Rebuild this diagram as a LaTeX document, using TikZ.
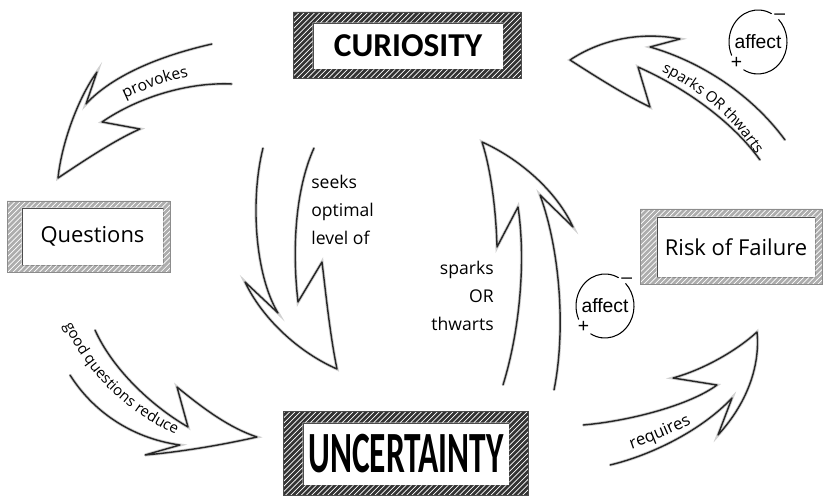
\documentclass[tikz,border=0pt]{standalone}
\usepackage{fontspec}
\usepackage{graphicx}
\setmainfont{Open Sans}
\newfontfamily\boxfont{Carlito}
\newfontfamily\affectfont{Liberation Sans}
\usetikzlibrary{patterns,decorations.text}
\newcommand\lblfont{\fontsize{9}{9}\selectfont}

\tikzset{
  sketch/.style={line width=0.8pt, black!85, line cap=round, line join=round,
    preaction={draw=black!18, line width=1.8pt}},
  darkframe/.style={even odd rule, fill=black!80,
    postaction={pattern=north east lines, pattern color=white}},
  greyframe/.style={even odd rule, fill=black!32,
    postaction={pattern=north east lines, pattern color=white}},
  innerbox/.style={draw=black!70, line width=0.4pt, fill=white, inner sep=0pt},
  bigword/.style={font=\boxfont\bfseries\fontsize{19}{19}\selectfont},
  boxword/.style={font=\fontsize{12.5}{14}\selectfont},
  midlabel/.style={font=\fontsize{10}{16}\selectfont, inner sep=0pt},
  affect/.style={font=\affectfont\fontsize{11}{11}\selectfont, inner sep=0pt}
}

\begin{document}
\begin{tikzpicture}[x=0.02cm, y=-0.02cm]
\useasboundingbox (0,0) rectangle (827,496);

% boxes
\node[innerbox, bigword, minimum width=3.8cm, minimum height=0.92cm] (cur) at (408,46) {CURIOSITY};
\fill[darkframe] (293,12) rectangle (521,78) (cur.north west) rectangle (cur.south east);
\draw[black!70, line width=0.5pt] (293,12) rectangle (521,78);

\node[innerbox, minimum width=4.12cm, minimum height=1.24cm] (unc) at (406,454)
  {\scalebox{1}[1.75]{\boxfont\bfseries\fontsize{19}{19}\selectfont UNCERTAINTY}};
\fill[darkframe] (283,411) rectangle (528,495) (unc.north west) rectangle (unc.south east);
\draw[black!70, line width=0.5pt] (283,411) rectangle (528,495);

\node[innerbox, boxword, minimum width=2.82cm, minimum height=1.14cm] (que) at (92.5,236.5) {Questions};
\fill[greyframe] (7,201) rectangle (170,272) (que.north west) rectangle (que.south east);
\draw[black!45, line width=0.5pt] (7,201) rectangle (170,272);

\node[innerbox, boxword, minimum width=3.16cm, minimum height=1.2cm] (risk) at (736,247) {Risk of Failure};
\fill[greyframe] (640,209) rectangle (822,284) (risk.north west) rectangle (risk.south east);
\draw[black!45, line width=0.5pt] (640,209) rectangle (822,284);

% arrows
\draw[sketch] (212,44) .. controls (150,58) and (108,80) .. (86,104) -- (97,72)
  .. controls (80,95) and (62,140) .. (58,178) .. controls (85,160) and (115,140) .. (140,129)
  -- (102,122) .. controls (140,96) and (190,82) .. (232,84);
\draw[sketch] (263,148) .. controls (250,200) and (255,275) .. (278,313) -- (245,282)
  .. controls (262,318) and (298,352) .. (337,369) .. controls (330,335) and (326,295) .. (322,262)
  -- (298,302) .. controls (292,250) and (295,190) .. (314,148);
\draw[sketch] (503,385) .. controls (520,330) and (526,260) .. (518,207) -- (497,247)
  .. controls (496,210) and (491,170) .. (482,142) .. controls (518,158) and (556,190) .. (573,227)
  -- (540,195) .. controls (560,250) and (566,330) .. (554,390);
\draw[sketch] (785,140) .. controls (752,95) and (702,62) .. (650,47) -- (680,39)
  .. controls (640,31) and (600,40) .. (570,60) .. controls (598,78) and (625,95) .. (650,107)
  -- (638,67) .. controls (690,90) and (735,125) .. (760,160);
\draw[sketch] (95,330) .. controls (112,368) and (150,405) .. (188,427) -- (177,387)
  .. controls (205,410) and (230,428) .. (257,437) .. controls (222,445) and (180,452) .. (145,455)
  -- (180,445) .. controls (130,438) and (92,410) .. (70,375);
\draw[sketch] (583,425) .. controls (630,421) and (690,405) .. (717,385) -- (673,378)
  .. controls (702,370) and (735,352) .. (757,332) .. controls (760,362) and (750,400) .. (718,435)
  -- (732,398) .. controls (702,430) and (652,455) .. (610,465);

% labels on the arrows
\path[decorate, decoration={text along path, text align=center, text={|\lblfont|provokes}}]
  (110,106) .. controls (135,93) and (165,80) .. (205,73);
\path[decorate, decoration={text along path, text align=center, text={|\fontsize{8.5}{8.5}\selectfont|sparks OR thwarts}}]
  (640,62) .. controls (695,84) and (738,118) .. (768,175);
\path[decorate, decoration={text along path, text align=center, text={|\fontsize{8.5}{8.5}\selectfont|good questions reduce}}]
  (55,306) .. controls (82,370) and (122,414) .. (195,443);
\path[decorate, decoration={text along path, text align=center, text={|\fontsize{9.5}{9.5}\selectfont|requires}}]
  (595,460) .. controls (635,450) and (680,432) .. (725,405);

\node[midlabel, anchor=west, align=left] (seek) at (311,210) {seeks\\optimal\\level of};
\node[midlabel, anchor=east, align=right] (spk) at (494,296) {sparks\\OR\\thwarts};

% affect signs
\node[affect] (aff1) at (758,42) {affect};
\draw[line width=0.6pt] (aff1.center) ++(62:0.58cm and 0.64cm) arc[start angle=62, end angle=205, x radius=0.58cm, y radius=0.64cm];
\draw[line width=0.6pt] (aff1.center) ++(240:0.58cm and 0.64cm) arc[start angle=240, end angle=405, x radius=0.58cm, y radius=0.64cm];
\node[affect] at ([shift={(49:0.66cm)}]aff1.center) {–};
\node[affect] at ([shift={(224:0.6cm)}]aff1.center) {+};

\node[affect] (aff2) at (605,306) {affect};
\draw[line width=0.6pt] (aff2.center) ++(62:0.58cm and 0.64cm) arc[start angle=62, end angle=205, x radius=0.58cm, y radius=0.64cm];
\draw[line width=0.6pt] (aff2.center) ++(240:0.58cm and 0.64cm) arc[start angle=240, end angle=405, x radius=0.58cm, y radius=0.64cm];
\node[affect] at ([shift={(49:0.66cm)}]aff2.center) {–};
\node[affect] at ([shift={(224:0.6cm)}]aff2.center) {+};
\end{tikzpicture}
\end{document}
